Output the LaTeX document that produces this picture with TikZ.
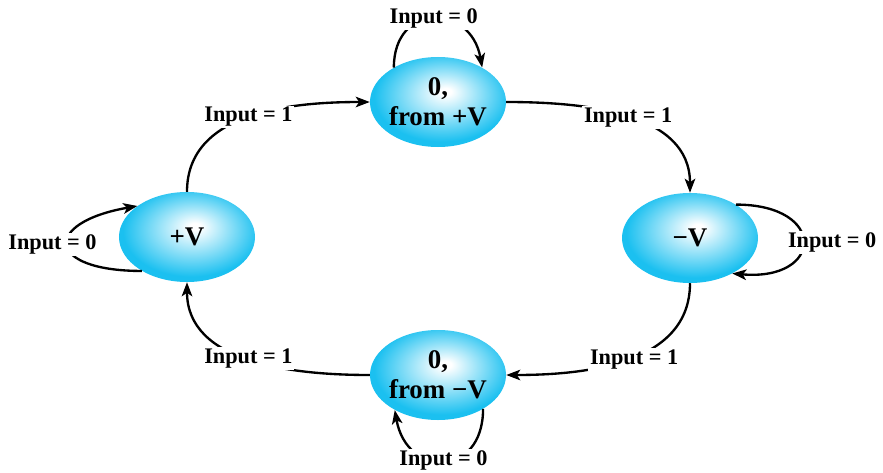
\documentclass[tikz,border=0pt]{standalone}
\usepackage{fontspec}
\setmainfont{Liberation Serif}
\usetikzlibrary{arrows.meta, shapes.geometric}
\usepackage{xcolor}
\definecolor{scyan}{RGB}{27,192,240}
\pgfdeclareradialshading{stateglow}{\pgfpoint{3bp}{6bp}}{%
  color(0bp)=(white); color(2bp)=(white); color(25bp)=(scyan); color(50bp)=(scyan)}

\begin{document}
\begin{tikzpicture}[x=0.03cm, y=-0.03cm,
  state/.style={ellipse, shading=stateglow, minimum width=4.08cm, minimum height=2.7cm,
                inner xsep=-4pt, inner ysep=0pt, align=center,
                font=\fontsize{23}{25.6}\selectfont\bfseries},
  lbl/.style={fill=white, inner sep=1.5pt, font=\fontsize{19}{22}\selectfont\bfseries},
  trans/.style={line width=2pt, -{Stealth[length=12pt, width=9pt, inset=3pt]}},
]
\useasboundingbox (0,0) rectangle (883,473);
\node[state] (top) at (438,102) {0,\\from +V};
\node[state] (plusv) at (187,237) {+V};
\node[state] (minusv) at (690,238) {−V};
\node[state] (bot) at (438,375) {0,\\from −V};

% ring of transitions
\draw[trans] (plusv.north) to[out=90, in=180] node[lbl] {Input = 1} (top.west);
\draw[trans] (top.east) to[out=0, in=90] node[lbl] {Input = 1} (minusv.north);
\draw[trans] (minusv.south) to[out=270, in=0] node[lbl, xshift=5pt] {Input = 1} (bot.east);
\draw[trans] (bot.west) to[out=180, in=270] node[lbl] {Input = 1} (plusv.south);

% self loops
\draw[trans] (top.142) to[out=90, in=100, looseness=1.9] node[lbl] {Input = 0} (top.38);
\draw[trans] (minusv.36) to[out=0, in=-5, looseness=3.4] node[lbl, xshift=25pt] {Input = 0} (minusv.320);
\draw[trans] (bot.323) to[out=270, in=280, looseness=2] node[lbl] {Input = 0} (bot.219);
\draw[trans] (plusv.217) to[out=180, in=190, looseness=3.8] node[lbl, xshift=-13pt] {Input = 0} (plusv.148);
\end{tikzpicture}
\end{document}
